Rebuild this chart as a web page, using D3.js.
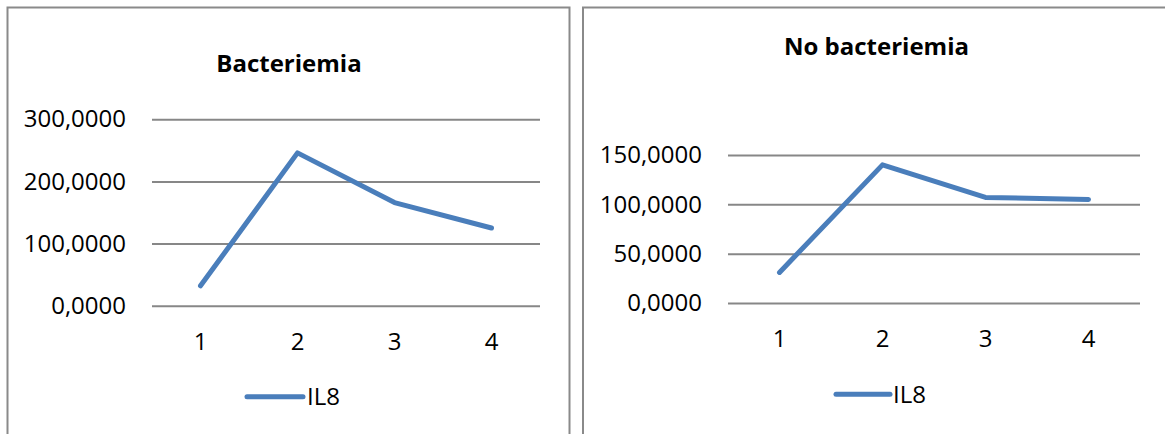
<!DOCTYPE html>
<html>
<head>
<meta charset="utf-8">
<script src="https://cdn.jsdelivr.net/npm/d3@7"></script>
<style>
  html, body { margin: 0; padding: 0; background: #fff; }
  svg { display: block; }
  text { font-family: "Open Sans", "Noto Sans", sans-serif; fill: #000; }
</style>
</head>
<body>
<svg id="chart" width="1165" height="434"></svg>
<script>
const categories = ["1", "2", "3", "4"];
const seriesName = "IL8";
const bactTitle = "Bacteriemia";
const bactValues = [32, 246, 166, 125];
const bactTicks = [0, 100, 200, 300];
const noBactTitle = "No bacteriemia";
const noBactValues = [31, 140, 107, 105];
const noBactTicks = [0, 50, 100, 150];

const svg = d3.select("#chart");
const fmt = d => d.toFixed(4).replace(".", ",");

const panels = [
  { title: bactTitle, values: bactValues, ticks: bactTicks,
    box: [7.5, 7.5, 562, 440], plot: { x0: 152, x1: 540, y0: 305.7, y1: 119.3 },
    titleX: 289, titleY: 72, legend: { x0: 247, x1: 303, y: 396.7, tx: 307 } },
  { title: noBactTitle, values: noBactValues, ticks: noBactTicks,
    box: [583, 7.5, 600, 440], plot: { x0: 728, x1: 1140, y0: 303, y1: 155 },
    titleX: 876.5, titleY: 55, legend: { x0: 836, x1: 890, y: 394.3, tx: 893 } }
];

panels.forEach(p => {
  const g = svg.append("g");
  g.append("rect")
    .attr("x", p.box[0]).attr("y", p.box[1])
    .attr("width", p.box[2]).attr("height", p.box[3])
    .attr("fill", "#fff").attr("stroke", "#8a8a8a").attr("stroke-width", 2);

  const x = d3.scaleBand().domain(categories).range([p.plot.x0, p.plot.x1]);
  const y = d3.scaleLinear().domain([p.ticks[0], p.ticks[p.ticks.length - 1]])
    .range([p.plot.y0, p.plot.y1]);
  const w = p.plot.x1 - p.plot.x0;

  const yAxis = g.append("g")
    .attr("transform", `translate(${p.plot.x0},0)`)
    .call(d3.axisLeft(y).tickValues(p.ticks).tickFormat(fmt)
      .tickSize(-w).tickPadding(26));
  yAxis.select(".domain").remove();
  yAxis.selectAll(".tick line").attr("stroke", "#878787").attr("stroke-width", 2);
  yAxis.selectAll(".tick text")
    .style("font-family", '"Open Sans", sans-serif')
    .attr("font-size", 24).attr("fill", "#000");

  const xAxis = g.append("g")
    .attr("transform", `translate(0,${p.plot.y0})`)
    .call(d3.axisBottom(x).tickSize(0).tickPadding(27));
  xAxis.select(".domain").remove();
  xAxis.selectAll(".tick text")
    .style("font-family", '"Open Sans", sans-serif')
    .attr("font-size", 24).attr("fill", "#000");

  const line = d3.line()
    .x((d, i) => x(categories[i]) + x.bandwidth() / 2)
    .y(d => y(d));
  g.append("path")
    .datum(p.values)
    .attr("d", line)
    .attr("fill", "none")
    .attr("stroke", "#4A7EBB")
    .attr("stroke-width", 5)
    .attr("stroke-linecap", "round")
    .attr("stroke-linejoin", "round");

  g.append("text")
    .attr("x", p.titleX).attr("y", p.titleY)
    .attr("text-anchor", "middle")
    .attr("font-size", 24).attr("font-weight", "bold")
    .text(p.title);

  g.append("line")
    .attr("x1", p.legend.x0).attr("x2", p.legend.x1)
    .attr("y1", p.legend.y).attr("y2", p.legend.y)
    .attr("stroke", "#4A7EBB").attr("stroke-width", 5)
    .attr("stroke-linecap", "round");
  g.append("text")
    .attr("x", p.legend.tx).attr("y", p.legend.y)
    .attr("dy", "0.35em")
    .attr("font-size", 24)
    .text(seriesName);
});
</script>
</body>
</html>
